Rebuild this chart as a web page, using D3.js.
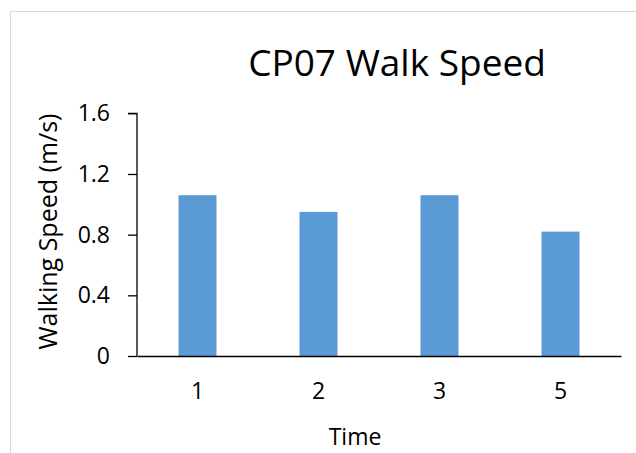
<!DOCTYPE html>
<html>
<head>
<meta charset="utf-8">
<script src="https://cdn.jsdelivr.net/npm/d3@7"></script>
<style>
  body { margin: 0; background: #fff; }
  text { font-family: "Open Sans", Carlito, Calibri, sans-serif; fill: #000; }
</style>
</head>
<body>
<div id="chart"></div>
<script>
// data
const times = ["1", "2", "3", "5"];
const speeds = [1.06, 0.95, 1.06, 0.82];
const yTicks = [0, 0.4, 0.8, 1.2, 1.6];

const width = 636;
const height = 453;

const svg = d3.select("#chart")
    .append("svg")
    .attr("width", width)
    .attr("height", height);

// chart frame (only top & left edges are visible)
svg.append("rect")
    .attr("x", 10.5).attr("y", 11.5)
    .attr("width", 700).attr("height", 500)
    .attr("fill", "none")
    .attr("stroke", "#d9d9d9");

const x = d3.scaleBand()
    .domain(times)
    .range([137, 621])
    .paddingInner(0.686)
    .paddingOuter(0.343);

const y = d3.scaleLinear()
    .domain([0, 1.6])
    .range([356, 113.3]);

// bars
svg.append("g")
    .selectAll("rect").data(times).join("rect")
    .attr("x", d => x(d))
    .attr("y", (d, i) => y(speeds[i]))
    .attr("width", x.bandwidth())
    .attr("height", (d, i) => y(0) - y(speeds[i]))
    .attr("fill", "#5b9bd5");

// y axis
const yAxis = svg.append("g")
    .attr("transform", "translate(137,0)")
    .call(d3.axisLeft(y).tickValues(yTicks).tickSize(9).tickPadding(18)
        .tickFormat(d => d === 0 ? "0" : d3.format(".1f")(d)));
yAxis.select(".domain").attr("stroke", "#000").attr("stroke-width", 1.3)
    .attr("d", `M-9,${y(1.6)}H0V${y(0)}`);
yAxis.selectAll(".tick line").attr("stroke", "#000").attr("stroke-width", 1.3);
yAxis.selectAll(".tick text")
    .style("font-size", "23px").attr("fill", "#000");

// x axis
const xAxis = svg.append("g")
    .attr("transform", `translate(0,${y(0)})`)
    .call(d3.axisBottom(x).tickSize(0).tickPadding(27));
xAxis.select(".domain").attr("stroke", "#000").attr("stroke-width", 1.3);
xAxis.selectAll(".tick text")
    .style("font-size", "23px").attr("fill", "#000");

// title
svg.append("text")
    .attr("x", 397).attr("y", 76)
    .attr("text-anchor", "middle")
    .style("font-size", "37px")
    .text("CP07 Walk Speed");

// axis titles
svg.append("text")
    .attr("x", 355).attr("y", 445)
    .attr("text-anchor", "middle")
    .style("font-size", "23px")
    .text("Time");

svg.append("text")
    .attr("transform", `translate(57,${(113 + 350) / 2}) rotate(-90)`)
    .attr("text-anchor", "middle")
    .style("font-size", "25px")
    .text("Walking Speed (m/s)");
</script>
</body>
</html>
